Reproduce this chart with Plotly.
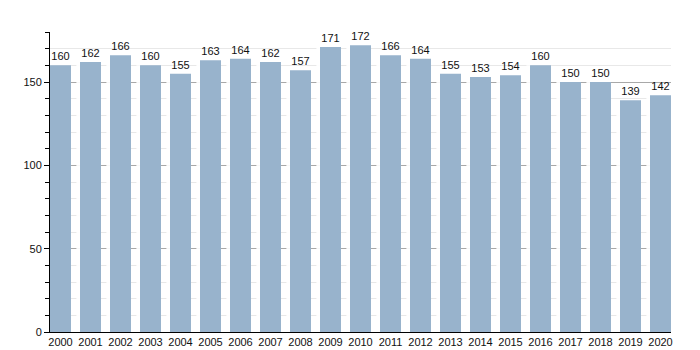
import plotly.graph_objects as go

years = [str(y) for y in range(2000, 2021)]
values = [160, 162, 166, 160, 155, 163, 164, 162, 157, 171, 172,
          166, 164, 155, 153, 154, 160, 150, 150, 139, 142]

bar_color = "#98b3cc"
font = dict(family="Liberation Sans, Arial, sans-serif", size=11, color="#111111")

fig = go.Figure()

# soft white glow along the left edge of each bar
fig.add_trace(go.Bar(
    x=years, y=values,
    width=0.14, offset=-0.47,
    marker=dict(color="rgba(255,255,255,0.92)", line=dict(width=0)),
    hoverinfo="skip", showlegend=False,
))

fig.add_trace(go.Bar(
    x=years, y=values,
    width=0.7, offset=-0.35,
    marker=dict(color=bar_color, line=dict(width=0)),
    text=[str(v) for v in values],
    textposition="outside",
    textfont=font,
    cliponaxis=False,
    showlegend=False,
))

fig.update_layout(
    width=700, height=350,
    margin=dict(l=50, r=29, t=32, b=18),
    paper_bgcolor="white", plot_bgcolor="white",
    barmode="overlay",
    font=font,
)

fig.update_xaxes(
    type="category",
    range=[-0.35, 20.35],
    automargin=False,
    showline=True, linecolor="#000000", linewidth=1,
    ticks="", showgrid=False,
    tickfont=font,
    ticklabelstandoff=0,
)

fig.update_yaxes(
    range=[0, 180],
    automargin=False,
    tickvals=[0, 50, 100, 150],
    showline=True, linecolor="#000000", linewidth=1,
    ticks="outside", ticklen=5, tickcolor="#000000", tickwidth=1,
    showgrid=True, gridcolor="#a8a8a8", gridwidth=1,
    zeroline=False,
    tickfont=font,
    minor=dict(dtick=10, tick0=0, ticks="outside", ticklen=4,
               tickcolor="#000000", showgrid=True, gridcolor="#e8e8e8",
               gridwidth=1),
)

fig.write_html("out.html")
